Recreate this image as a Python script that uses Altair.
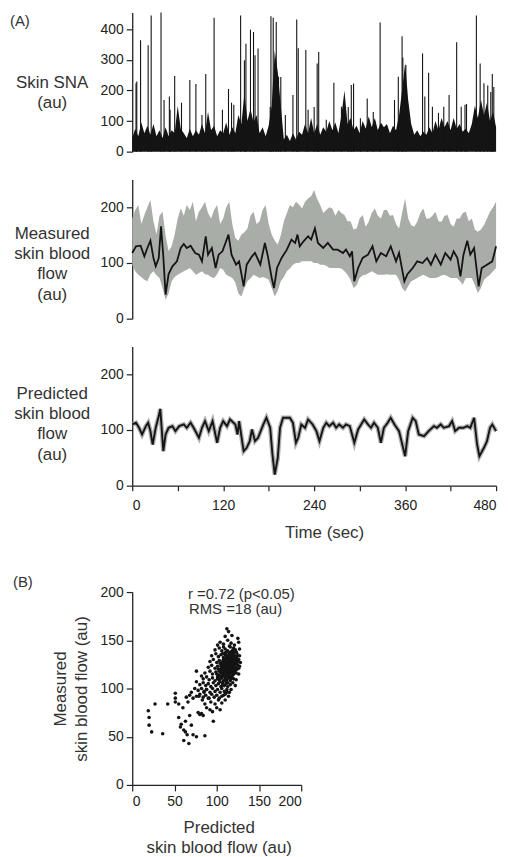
import altair as alt
import pandas as pd

FONT = "Liberation Sans"
INK = "#141414"

# ---------------- Panel A1: Skin SNA ----------------
sna_band_t = list(range(0, 481, 4))
sna_band_v = [
    45, 75, 50, 95, 60, 85, 55, 90, 50, 70,
    45, 80, 50, 70, 60, 150, 75, 60, 45, 75,
    50, 70, 55, 90, 60, 130, 70, 85, 50, 70,
    60, 95, 55, 80, 60, 120, 90, 190, 100, 140,
    95, 120, 60, 80, 50, 85, 150, 330, 260, 150,
    40, 55, 35, 60, 40, 65, 55, 90, 60, 110,
    60, 90, 55, 80, 65, 100, 70, 95, 60, 120,
    200, 90, 110, 70, 85, 60, 100, 75, 115, 80,
    110, 70, 95, 80, 90, 60, 85, 70, 120, 200,
    290, 170, 90, 55, 70, 50, 65, 55, 80, 60,
    100, 70, 110, 80, 100, 70, 110, 75, 90, 65,
    75, 60, 90, 150, 110, 170, 120, 160, 100, 130,
    80,
]
sna_spike_t = [
    5, 6, 11, 21, 25, 38, 42, 49, 50, 56, 65, 76, 84, 92, 97, 108, 119, 127, 131, 134,
    143, 148, 150, 156, 160, 162, 166, 182, 183, 186, 190, 193, 196, 202, 212, 217, 219,
    229, 232, 240, 244, 246, 256, 266, 276, 285, 289, 292, 301, 310, 318, 327, 346, 351,
    356, 357, 361, 383, 386, 391, 396, 404, 411, 418, 428, 434, 439, 441, 454, 459, 464,
    469, 473, 475, 477,
]
sna_spike_v = [
    224, 229, 364, 348, 445, 455, 169, 180, 137, 247, 160, 234, 221, 120, 254, 438, 137,
    205, 160, 153, 445, 299, 353, 399, 391, 315, 337, 146, 443, 438, 424, 245, 244, 120,
    185, 432, 338, 332, 137, 146, 288, 326, 104, 225, 147, 146, 218, 223, 109, 174, 130,
    422, 169, 245, 377, 308, 283, 321, 180, 258, 147, 127, 147, 185, 358, 147, 153, 156,
    445, 288, 224, 216, 195, 254, 211,
]

# ---------------- Panel A2: Measured skin blood flow ----------------
raw_t = list(range(0, 481, 4))
raw_upper = [
    180, 195, 204, 170, 186, 200, 213, 175, 151, 185,
    192, 150, 121, 130, 151, 180, 198, 185, 204, 195,
    210, 175, 192, 200, 210, 190, 180, 195, 204, 170,
    180, 200, 210, 170, 145, 140, 151, 155, 162, 185,
    192, 170, 175, 195, 204, 170, 151, 140, 133, 150,
    175, 190, 204, 200, 210, 205, 198, 210, 216, 220,
    231, 215, 204, 190, 195, 200, 198, 185, 195, 190,
    186, 175, 175, 160, 162, 180, 186, 165, 174, 190,
    198, 185, 180, 195, 195, 185, 186, 170, 162, 190,
    216, 180, 168, 165, 174, 190, 198, 180, 180, 185,
    192, 175, 174, 185, 186, 170, 165, 180, 180, 190,
    192, 175, 180, 160, 156, 160, 168, 180, 192, 200,
    210,
]
raw_lower = [
    97, 85, 79, 75, 70, 67, 80, 85, 78, 73,
    55, 34, 45, 67, 75, 79, 82, 85, 88, 91,
    85, 79, 82, 85, 80, 79, 75, 73, 80, 91,
    88, 79, 76, 73, 65, 45, 40, 55, 67, 72,
    79, 76, 73, 75, 73, 70, 55, 40, 50, 67,
    75, 85, 90, 97, 100, 100, 103, 103, 103, 103,
    100, 100, 97, 97, 95, 91, 91, 91, 91, 90,
    85, 79, 70, 55, 60, 73, 78, 79, 82, 85,
    82, 79, 79, 79, 80, 79, 79, 79, 70, 55,
    49, 58, 67, 70, 73, 76, 79, 76, 73, 73,
    73, 75, 78, 79, 76, 73, 73, 73, 68, 61,
    73, 73, 73, 60, 46, 55, 70, 75, 79, 85,
    91,
]
meas_t = [
    0, 5, 11, 16, 20, 24, 28, 31, 35, 38,
    41, 44, 48, 53, 59, 64, 68, 72, 77, 83,
    88, 92, 97, 100, 105, 110, 114, 119, 123, 127,
    131, 137, 141, 147, 151, 158, 162, 169, 175, 179,
    184, 187, 191, 197, 204, 210, 215, 218, 221, 226,
    232, 236, 241, 245, 252, 258, 265, 271, 278, 282,
    287, 290, 293, 298, 304, 311, 317, 322, 328, 335,
    341, 348, 352, 359, 363, 370, 376, 383, 389, 394,
    400, 407, 413, 420, 424, 429, 433, 437, 442, 446,
    451, 457, 461, 468, 475, 480,
]
meas_v = [
    118, 130, 131, 112, 127, 140, 109, 94, 109, 166,
    112, 43, 80, 94, 103, 127, 134, 127, 131, 118,
    115, 103, 148, 115, 127, 91, 115, 121, 136, 151,
    115, 97, 103, 58, 97, 112, 118, 97, 136, 112,
    73, 55, 91, 109, 124, 142, 136, 151, 130, 139,
    148, 142, 162, 136, 127, 136, 124, 124, 118, 124,
    112, 121, 67, 91, 109, 115, 130, 103, 118, 112,
    130, 103, 118, 67, 80, 91, 103, 100, 109, 97,
    115, 97, 118, 106, 121, 109, 76, 115, 140, 115,
    127, 58, 91, 97, 103, 130,
]

# ---------------- Panel A3: Predicted skin blood flow ----------------
pred_t = [
    0, 5, 9, 13, 18, 21, 24, 27, 31, 35,
    37, 41, 44, 48, 53, 57, 62, 68, 72, 77,
    81, 88, 92, 96, 101, 106, 112, 116, 120, 125,
    129, 136, 139, 141, 147, 151, 155, 158, 162, 166,
    173, 177, 182, 185, 188, 192, 195, 199, 208, 212,
    216, 219, 223, 228, 232, 238, 243, 247, 252, 256,
    260, 265, 269, 273, 278, 282, 287, 293, 298, 302,
    306, 311, 315, 319, 324, 328, 332, 337, 341, 346,
    352, 360, 364, 370, 374, 378, 385, 391, 398, 402,
    407, 411, 418, 422, 426, 431, 437, 442, 446, 451,
    455, 458, 464, 468, 472, 475, 480,
]
pred_v = [
    110, 113, 104, 92, 107, 113, 98, 74, 104, 125,
    138, 62, 92, 104, 107, 98, 107, 110, 104, 113,
    104, 86, 104, 116, 98, 116, 77, 104, 116, 107,
    119, 110, 92, 116, 62, 68, 80, 101, 80, 86,
    110, 122, 104, 56, 20, 50, 104, 122, 122, 113,
    77, 86, 110, 104, 119, 110, 98, 80, 104, 113,
    107, 113, 104, 110, 104, 110, 107, 77, 101, 110,
    119, 110, 104, 113, 104, 77, 104, 113, 122, 110,
    98, 53, 98, 122, 116, 92, 89, 98, 107, 104,
    110, 104, 107, 116, 98, 104, 104, 107, 104, 122,
    74, 53, 68, 80, 104, 110, 98,
]

# ---------------- Panel B: scatter (predicted, measured) ----------------
scatter_points = [
    (19, 77), (20, 70), (20, 62), (23, 55), (36, 53), (27, 84), (42, 84), (51, 95), (51, 90), (51, 86),
    (55, 84), (55, 70), (57, 60), (58, 63), (61, 57), (61, 46), (63, 55), (65, 52), (67, 43), (63, 66),
    (68, 72), (70, 62), (72, 52), (76, 50), (86, 51), (78, 75), (80, 73), (82, 74), (84, 72), (88, 80),
    (92, 78), (95, 76), (100, 80), (104, 78), (96, 66), (106, 85), (110, 88), (74, 100), (76, 107), (76, 118),
    (82, 113), (70, 96), (72, 90), (66, 86), (60, 80), (64, 91), (68, 93), (79, 92), (83, 88), (86, 84),
    (90, 90), (93, 86), (98, 84), (102, 88), (108, 93), (112, 96), (117, 99), (122, 103), (85, 96), (88, 99),
    (112, 162), (114, 159), (118, 155), (125, 152), (110, 154),
    (104, 148), (108, 146), (113, 150), (117, 147), (121, 145), (126, 148), (101, 145), (115, 144),
    (98, 140), (103, 142), (106, 139), (110, 141), (112, 138), (116, 143), (119, 140), (123, 138), (127, 141), (108, 143), (120, 142),
    (94, 134), (99, 136), (102, 133), (105, 135), (108, 132), (110, 137), (112, 134), (115, 136), (117, 133), (119, 135),
    (122, 132), (124, 136), (127, 134), (113, 131), (107, 136),
    (92, 128), (96, 130), (100, 127), (103, 129), (106, 126), (108, 130), (110, 128), (112, 126), (114, 130), (116, 127),
    (118, 129), (120, 126), (122, 130), (125, 128), (128, 127), (111, 131), (117, 131),
    (90, 122), (94, 124), (98, 121), (101, 123), (104, 120), (106, 124), (108, 122), (110, 120), (112, 124), (114, 121),
    (116, 123), (118, 120), (120, 124), (122, 122), (124, 120), (127, 123), (109, 125), (115, 125), (119, 122),
    (86, 116), (92, 118), (95, 115), (99, 117), (102, 114), (104, 118), (107, 115), (109, 117), (111, 114), (113, 118),
    (115, 115), (117, 117), (119, 114), (121, 118), (123, 116), (126, 115), (110, 119), (116, 119), (105, 116),
    (84, 110), (88, 112), (91, 109), (95, 111), (98, 108), (101, 112), (103, 109), (106, 111), (108, 108), (110, 112),
    (112, 109), (114, 111), (116, 108), (118, 112), (120, 110), (123, 109), (107, 113), (113, 113),
    (80, 104), (84, 106), (87, 103), (90, 105), (93, 102), (96, 106), (99, 103), (102, 105), (105, 102), (107, 106),
    (109, 103), (111, 105), (113, 102), (116, 104), (119, 106), (104, 107),
    (78, 98), (82, 100), (85, 97), (88, 99), (92, 96), (95, 100), (98, 97), (101, 99), (104, 96), (106, 100),
    (109, 97), (112, 99), (115, 96),
    (76, 92), (80, 94), (84, 91), (87, 93), (91, 90), (94, 94), (97, 91), (100, 93), (103, 90), (106, 92),
    (110, 94), (114, 92),
    (110, 127), (112, 121), (114, 128), (116, 121), (118, 125), (113, 123), (111, 118), (115, 130), (117, 126), (119, 130),
    (121, 127), (108, 119), (106, 121), (109, 128), (114, 125), (112, 133), (116, 137), (120, 133), (118, 138), (110, 135),
    (104, 126), (102, 120), (100, 115), (105, 111), (107, 104), (111, 108), (113, 106), (117, 110), (120, 115), (122, 119),
    (124, 125), (126, 130),
    (109, 131), (111, 124), (113, 127), (115, 122), (117, 129), (119, 118), (121, 121), (123, 128), (125, 124), (111, 135),
    (113, 139), (115, 133), (117, 138), (119, 127), (121, 134), (123, 131), (107, 128), (105, 123), (103, 118), (101, 110),
    (108, 115), (110, 110), (112, 116), (114, 113), (116, 117), (118, 116), (120, 120), (122, 126), (124, 133), (126, 121),
    (106, 117), (104, 113), (114, 118), (116, 112), (118, 134), (112, 129), (110, 122), (108, 126), (120, 137), (122, 140),
]
scatter_pred = [p for p, m in scatter_points]
scatter_meas = [m for p, m in scatter_points]

stats_line1 = "r =0.72 (p<0.05)"
stats_line2 = "RMS =18 (au)"

# ---------------- build ----------------
W = 366
H = 140
xs = alt.Scale(domain=[0, 480], nice=False, zero=False)


def left_axis(values, title, ty):
    return alt.Axis(values=values, title=title, titleAngle=0, titleAlign="center",
                    titleBaseline="middle", titleX=-81, titleY=ty, titleLineHeight=20.5,
                    labelOverlap=False)


def label(txt, px, py, size):
    return alt.Chart(pd.DataFrame({"l": [txt]})).mark_text(
        align="left", baseline="middle", fontSize=size, font=FONT, color="#333"
    ).encode(x=alt.value(px), y=alt.value(py), text="l:N")


df_band = pd.DataFrame({"t": sna_band_t, "v": sna_band_v})
df_spk = pd.DataFrame({"t": sna_spike_t, "v": sna_spike_v})
y1s = alt.Scale(domain=[0, 455], nice=False)
ax1 = left_axis([0, 100, 200, 300, 400], ["Skin SNA", "(au)"], 70)

p1 = alt.layer(
    alt.Chart(df_band).mark_area(color=INK, interpolate="linear").encode(
        x=alt.X("t:Q", scale=xs, axis=None),
        y=alt.Y("v:Q", scale=y1s, axis=ax1),
    ),
    alt.Chart(df_spk).mark_rule(color=INK, strokeWidth=1.1).encode(
        x=alt.X("t:Q", scale=xs, axis=None),
        y=alt.Y("v:Q", scale=y1s, axis=ax1),
        y2=alt.datum(0),
    ),
    label("(A)", -123, 9, 15),
).properties(width=W, height=H)

df_raw = pd.DataFrame({"t": raw_t, "hi": raw_upper, "lo": raw_lower})
df_meas = pd.DataFrame({"t": meas_t, "v": meas_v})
y2s = alt.Scale(domain=[0, 250], nice=False)
ax2 = left_axis([0, 100, 200], ["Measured", "skin blood", "flow", "(au)"], 54)

p2 = alt.layer(
    alt.Chart(df_raw).mark_area(color="#a9ada7", interpolate="linear").encode(
        x=alt.X("t:Q", scale=xs, axis=None),
        y=alt.Y("hi:Q", scale=y2s, axis=ax2),
        y2="lo:Q",
    ),
    alt.Chart(df_meas).mark_line(color=INK, strokeWidth=1.8).encode(
        x=alt.X("t:Q", scale=xs, axis=None),
        y=alt.Y("v:Q", scale=y2s, axis=ax2),
    ),
).properties(width=W, height=H)

df_pred = pd.DataFrame({"t": pred_t, "v": pred_v})
ax3x = alt.Axis(
    values=list(range(0, 481, 60)),
    labelExpr="datum.value % 120 === 0 ? datum.label : ''",
    title="Time (sec)", titleX=193, titleY=47, titleAlign="center", titleBaseline="middle",
    tickSize=5, labelPadding=8, labelOverlap=False,
)
ax3 = left_axis([0, 100, 200], ["Predicted", "skin blood", "flow", "(au)"], 47)
p3 = alt.layer(
    alt.Chart(df_pred).mark_line(color="#9a9d98", strokeWidth=4.5, opacity=0.8).encode(
        x=alt.X("t:Q", scale=xs, axis=ax3x),
        y=alt.Y("v:Q", scale=y2s, axis=ax3),
    ),
    alt.Chart(df_pred).mark_line(color=INK, strokeWidth=1.9).encode(
        x=alt.X("t:Q", scale=xs, axis=ax3x),
        y=alt.Y("v:Q", scale=y2s, axis=ax3),
    ),
).properties(width=W, height=H)

# empty spacer row so that panel B sits lower than the fixed concat spacing
spacer = alt.Chart(pd.DataFrame({"l": [""]})).mark_text().encode(
    text="l:N"
).properties(width=W, height=51)

df_sc = pd.DataFrame({"pred": scatter_pred, "meas": scatter_meas})
p4 = alt.layer(
    alt.Chart(df_sc).mark_circle(color=INK, size=13, opacity=1).encode(
        x=alt.X("pred:Q", scale=alt.Scale(domain=[0, 200], nice=False),
                axis=alt.Axis(values=[0, 50, 100, 150, 200],
                              title=["Predicted", "skin blood flow (au)"],
                              titleX=87, titleY=43, titleAlign="center", titleBaseline="middle",
                              titleLineHeight=20, labelPadding=4, labelOverlap=False)),
        y=alt.Y("meas:Q", scale=alt.Scale(domain=[0, 200], nice=False),
                axis=alt.Axis(values=[0, 50, 100, 150, 200],
                              title=["Measured", "skin blood flow (au)"],
                              titleAngle=270, titleX=-72, titleY=97, titleAlign="center",
                              titleBaseline="middle", titleLineHeight=21, labelOverlap=False)),
    ),
    label(stats_line1, 56, 2, 15),
    label(stats_line2, 57, 17, 15),
    label("(B)", -120, -10, 15),
).properties(width=170, height=194)

chart = alt.vconcat(p1, p2, p3, spacer, p4, spacing=28, bounds="flush").properties(
    padding={"left": 10, "top": 9, "right": 5, "bottom": 5},
    background="white",
).configure_axis(
    labelFont=FONT, labelFontSize=14, labelColor="#222",
    titleFont=FONT, titleFontSize=17, titleFontWeight="normal", titleColor="#333",
    domainColor="#222", domainWidth=1.3, tickColor="#222", tickWidth=1.2,
    tickSize=6, labelPadding=3, grid=False,
).configure_view(stroke=None)

chart.save("out.html", embed_options={"renderer": "svg", "actions": False})
